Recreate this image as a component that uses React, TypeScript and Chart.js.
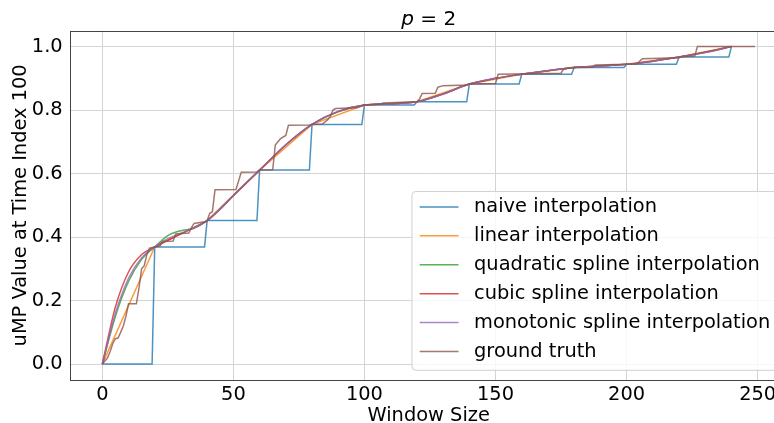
import { useEffect, useRef } from 'react';
import { Chart, registerables } from 'chart.js';

Chart.register(...registerables);

// ---------- data ----------
const seriesLabels = [
  'naive interpolation',
  'linear interpolation',
  'quadratic spline interpolation',
  'cubic spline interpolation',
  'monotonic spline interpolation',
  'ground truth',
];

// knots (window sizes) where the uMP value is known
const windowKnots = [0, 20, 40, 60, 80, 100, 120, 140, 160, 180, 200, 220, 240];
const knotValues = [0, 0.369, 0.452, 0.611, 0.755, 0.816, 0.826, 0.882, 0.913, 0.934, 0.944, 0.967, 1.0];

// smooth interpolation curves
const smoothX = [0, 5, 10, 15, 20, 25, 30, 35, 40, 45, 50, 60, 70, 80, 90, 100, 110, 120, 130, 140, 150, 160, 170, 180, 190, 200, 210, 220, 230, 240];
const quadraticValues = [0, 0.15, 0.26, 0.33, 0.369, 0.405, 0.42, 0.428, 0.452, 0.49, 0.532, 0.611, 0.69, 0.755, 0.795, 0.816, 0.82, 0.826, 0.851, 0.882, 0.9, 0.913, 0.924, 0.934, 0.939, 0.944, 0.954, 0.967, 0.982, 1.0];
const cubicValues = [0, 0.18, 0.29, 0.345, 0.369, 0.39, 0.41, 0.43, 0.452, 0.488, 0.53, 0.611, 0.691, 0.755, 0.796, 0.816, 0.82, 0.826, 0.851, 0.882, 0.9, 0.913, 0.924, 0.934, 0.939, 0.944, 0.954, 0.967, 0.982, 1.0];
const monotonicValues = [0, 0.16, 0.27, 0.335, 0.369, 0.395, 0.412, 0.43, 0.452, 0.489, 0.531, 0.611, 0.691, 0.755, 0.796, 0.816, 0.82, 0.826, 0.85, 0.882, 0.9, 0.913, 0.924, 0.934, 0.939, 0.944, 0.954, 0.967, 0.981, 1.0];

// ground truth
const truthX = [0, 1, 2, 3, 4, 5, 6, 7, 8, 9, 10, 13, 14, 15, 16, 17, 18, 20, 22, 23, 27, 28, 33, 34, 35, 39, 40, 41, 42, 43, 51, 53, 59, 60, 65, 66, 67, 68, 70, 71, 79, 80, 84, 86, 87, 88, 89, 97, 100, 106, 107, 120, 121, 122, 127, 128, 130, 139, 140, 150, 151, 175, 176, 180, 187, 188, 200, 204, 206, 220, 221, 226, 227, 249];
const truthY = [0, 0.01, 0.02, 0.04, 0.065, 0.08, 0.082, 0.1, 0.12, 0.15, 0.19, 0.19, 0.24, 0.3, 0.31, 0.345, 0.365, 0.369, 0.372, 0.386, 0.388, 0.41, 0.413, 0.43, 0.443, 0.448, 0.452, 0.475, 0.48, 0.549, 0.55, 0.604, 0.605, 0.611, 0.612, 0.69, 0.7, 0.71, 0.72, 0.752, 0.753, 0.755, 0.756, 0.77, 0.78, 0.8, 0.805, 0.807, 0.816, 0.818, 0.822, 0.826, 0.835, 0.852, 0.853, 0.872, 0.877, 0.879, 0.882, 0.884, 0.913, 0.916, 0.93, 0.934, 0.935, 0.942, 0.944, 0.946, 0.962, 0.965, 0.968, 0.97, 1.0, 1.0];

const xTickStep = 50;
const yTickStep = 0.2;

// ---------- styles ----------
const FONT = '"DejaVu Sans", sans-serif';
const FS = 19.4;
const colors = [
  'rgba(31,119,180,0.8)',
  'rgba(255,127,14,0.8)',
  'rgba(44,160,44,0.8)',
  'rgba(214,39,40,0.8)',
  'rgba(148,103,189,0.8)',
  'rgba(140,86,75,0.8)',
];

const decorPlugin = {
  id: 'decor',
  afterDatasetsDraw(chart: any) {
    const { ctx, chartArea: a } = chart;
    ctx.save();
    ctx.strokeStyle = '#444';
    ctx.lineWidth = 1;
    const l = Math.round(a.left) + 0.5;
    const t = Math.round(a.top) + 0.5;
    const r = Math.round(a.right) + 0.5;
    const b = Math.round(a.bottom) + 0.5;
    ctx.strokeRect(l, t, r - l, b - t);
    ctx.restore();
  },
  afterDraw(chart: any) {
    const { ctx, chartArea: a } = chart;
    // title "p = 2" (italic p)
    ctx.save();
    ctx.fillStyle = '#000';
    ctx.textBaseline = 'alphabetic';
    ctx.textAlign = 'left';
    const tfs = 20;
    const italic = `italic ${tfs}px ${FONT}`;
    const normal = `${FS}px ${FONT}`;
    const tnormal = `${tfs}px ${FONT}`;
    ctx.font = italic;
    const wp = ctx.measureText('p').width;
    ctx.font = tnormal;
    const wr = ctx.measureText(' = 2').width;
    const cx = (a.left + a.right) / 2;
    const x = cx - (wp + wr) / 2;
    ctx.font = italic;
    ctx.fillText('p', x, 24.5);
    ctx.font = tnormal;
    ctx.fillText(' = 2', x + wp, 24.5);
    ctx.restore();

    // legend (lower right, inside axes)
    const ds = chart.data.datasets;
    ctx.save();
    ctx.font = normal;
    const textW = Math.max(...ds.map((d: any) => ctx.measureText(d.label).width));
    const pad = 0.4 * FS, hl = 2 * FS, htp = 0.8 * FS, axPad = 0.5 * FS;
    const pitch = 1.49 * FS;
    const H = 0.8 * FS + (ds.length - 1) * pitch + 0.97 * FS;
    const W = pad + hl + htp + textW + pad;
    const right = a.right - axPad;
    const bottom = a.bottom - axPad;
    const left = right - W;
    const top = bottom - H;
    ctx.beginPath();
    const rad = 4;
    ctx.moveTo(left + rad, top);
    ctx.lineTo(right - rad, top);
    ctx.quadraticCurveTo(right, top, right, top + rad);
    ctx.lineTo(right, bottom - rad);
    ctx.quadraticCurveTo(right, bottom, right - rad, bottom);
    ctx.lineTo(left + rad, bottom);
    ctx.quadraticCurveTo(left, bottom, left, bottom - rad);
    ctx.lineTo(left, top + rad);
    ctx.quadraticCurveTo(left, top, left + rad, top);
    ctx.closePath();
    ctx.fillStyle = 'rgba(255,255,255,0.8)';
    ctx.fill();
    ctx.strokeStyle = '#d0d0d0';
    ctx.lineWidth = 1;
    ctx.stroke();
    ctx.textBaseline = 'middle';
    ctx.textAlign = 'left';
    ds.forEach((d: any, i: number) => {
      const cy = top + 0.8 * FS + i * pitch;
      ctx.strokeStyle = d.borderColor;
      ctx.lineWidth = 1.5;
      ctx.beginPath();
      ctx.moveTo(left + pad, cy);
      ctx.lineTo(left + pad + hl, cy);
      ctx.stroke();
      ctx.fillStyle = '#000';
      ctx.fillText(d.label, left + pad + hl + htp, cy);
    });
    ctx.restore();
  },
};

export default function App() {
  const ref = useRef<HTMLCanvasElement>(null);
  useEffect(() => {
    if (!ref.current) return;
    const naivePoints: { x: number; y: number }[] = [];
    windowKnots.forEach((k, i) => {
      naivePoints.push({ x: k, y: knotValues[i] });
      if (i < windowKnots.length - 1) naivePoints.push({ x: k + 19, y: knotValues[i] });
    });
    const pts = (xs: number[], ys: number[]) => xs.map((x, i) => ({ x, y: ys[i] }));
    const tickFont = { family: FONT, size: FS };
    const chart = new Chart(ref.current, {
      type: 'line',
      data: {
        datasets: [
          { label: seriesLabels[0], data: naivePoints, borderColor: colors[0], order: 5, tension: 0 },
          { label: seriesLabels[1], data: pts(windowKnots, knotValues), borderColor: colors[1], order: 4, tension: 0 },
          { label: seriesLabels[2], data: pts(smoothX, quadraticValues), borderColor: colors[2], order: 3, cubicInterpolationMode: 'monotone' },
          { label: seriesLabels[3], data: pts(smoothX, cubicValues), borderColor: colors[3], order: 2, cubicInterpolationMode: 'monotone' },
          { label: seriesLabels[4], data: pts(smoothX, monotonicValues), borderColor: colors[4], order: 1, cubicInterpolationMode: 'monotone' },
          { label: seriesLabels[5], data: pts(truthX, truthY), borderColor: colors[5], order: 0, tension: 0 },
        ] as any,
      },
      options: {
        animation: false,
        responsive: false,
        elements: { point: { radius: 0 }, line: { borderWidth: 1.5, fill: false } },
        layout: { padding: { left: 0, top: 30.7, right: 12.3, bottom: 0 } },
        plugins: { legend: { display: false }, tooltip: { enabled: false }, title: { display: false } },
        scales: {
          x: {
            type: 'linear',
            min: -12.45,
            max: 261.45,
            ticks: { stepSize: xTickStep, includeBounds: false, font: tickFont, color: '#000', padding: 3, maxRotation: 0 },
            grid: { color: '#d4d4d4', lineWidth: 1, drawTicks: false },
            border: { display: false },
            title: { display: true, text: 'Window Size', font: tickFont, color: '#000', padding: { top: 0, bottom: -4.8 } },
            afterFit: (s: any) => { s.height = 43; },
          },
          y: {
            type: 'linear',
            min: -0.05,
            max: 1.05,
            ticks: { stepSize: yTickStep, includeBounds: false, font: tickFont, color: '#000', padding: 7, callback: (v: any) => Number(v).toFixed(1) },
            grid: { color: '#d4d4d4', lineWidth: 1, drawTicks: false },
            border: { display: false },
            title: { display: true, text: 'uMP Value at Time Index 100', font: tickFont, color: '#000', padding: { top: 9, bottom: 0 } },
            afterFit: (s: any) => { s.width = 69.66; },
          },
        },
      } as any,
      plugins: [decorPlugin],
    });
    return () => chart.destroy();
  }, []);
  return (
    <div style={{ position: 'absolute', left: 0, top: 0, width: 774, height: 423, overflow: 'hidden', background: '#fff' }}>
      <canvas ref={ref} width={800} height={423} style={{ width: 800, height: 423, display: 'block' }} />
    </div>
  );
}
